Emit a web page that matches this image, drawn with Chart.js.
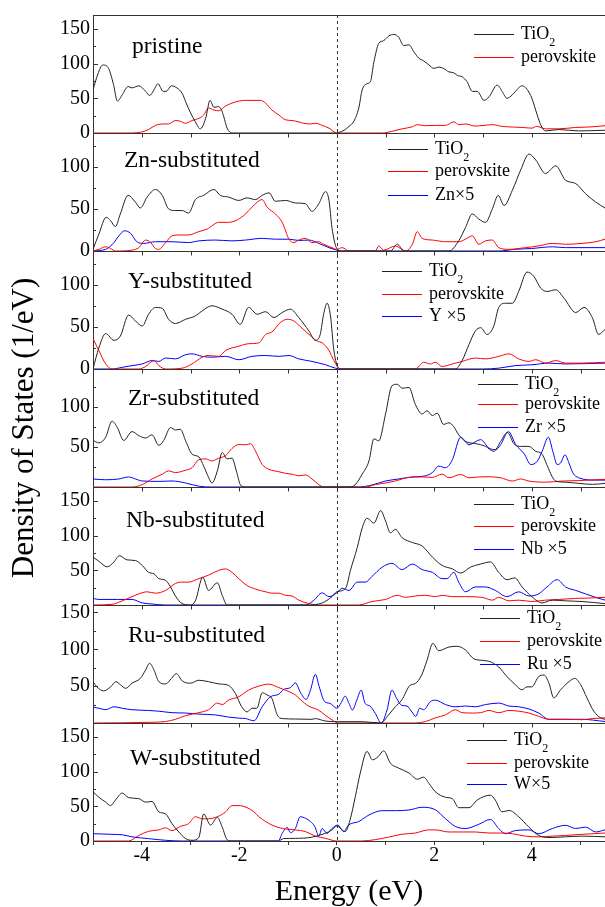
<!DOCTYPE html>
<html><head><meta charset="utf-8">
<script src="https://cdn.jsdelivr.net/npm/chart.js@4.4.1/dist/chart.umd.min.js"></script>
<style>html,body{margin:0;padding:0;background:#fff;}canvas{display:block;}</style>
</head><body>
<canvas id="c" width="605" height="907"></canvas>
<script>
// ---------------- DATA (energy in eV, DOS in 1/eV) ----------------
const energyMin = -5, energyMax = 5.5;
const panelNames = ['pristine','Zn-substituted','Y-substituted','Zr-substituted','Nb-substituted','Ru-substituted','W-substituted'];
const dopantLabels = [null,'Zn×5','Y ×5','Zr ×5','Nb ×5','Ru ×5','W×5'];
const yMax = [170,140,140,147,170,160,170];
const hideZeroLabel = [false,false,false,true,true,true,false];
const xTickLabels = [-4,-2,0,2,4];

const pristineTiO2 = [[-5,62],[-4.9,85],[-4.8,98],[-4.68,93],[-4.58,70],[-4.5,46],[-4.4,55],[-4.28,67],[-4.2,65],[-4.06,68],[-3.92,60],[-3.84,54],[-3.75,62],[-3.67,71],[-3.56,60],[-3.5,60],[-3.39,68],[-3.28,65],[-3.17,57],[-3.1,45],[-3.0,29],[-2.9,16],[-2.8,6],[-2.69,21],[-2.6,47],[-2.52,37],[-2.43,38],[-2.37,34],[-2.32,24],[-2.25,7],[-2.15,0],[0,0],[0.05,1],[0.15,4],[0.25,9.5],[0.35,17],[0.45,36],[0.52,62],[0.62,71],[0.69,74],[0.76,102],[0.86,129],[0.96,133],[1.07,140],[1.17,142],[1.27,138],[1.37,126],[1.48,127],[1.58,117],[1.68,108],[1.78,104],[1.89,98],[1.99,93],[2.09,95],[2.19,93],[2.3,88],[2.39,87],[2.47,83],[2.57,81],[2.67,74],[2.78,60],[2.88,60],[3.02,47],[3.12,52],[3.29,69],[3.39,60],[3.49,50],[3.6,55],[3.73,65],[3.8,68],[3.9,63],[4.0,50],[4.11,26],[4.18,12],[4.28,3],[4.55,5],[4.96,3],[5.5,4]];
const pristinePerov = [[-5,0],[-4.2,0],[-4.0,1.5],[-3.86,5],[-3.72,11],[-3.58,13],[-3.45,13],[-3.31,18],[-3.21,17],[-3.1,14],[-2.97,18],[-2.83,21],[-2.73,26],[-2.63,36],[-2.52,33],[-2.42,32],[-2.28,39],[-2.15,43],[-2.01,46],[-1.87,47],[-1.74,47],[-1.57,47],[-1.46,43],[-1.33,33],[-1.19,26],[-1.05,19],[-0.92,18],[-0.78,16],[-0.68,14],[-0.54,13],[-0.44,14],[-0.3,11],[-0.16,7],[0,0],[0.93,0],[1.13,2.4],[1.34,6],[1.55,9],[1.65,12],[1.82,10.5],[2.02,11],[2.23,11],[2.4,16],[2.5,12],[2.64,13],[2.84,10],[3.02,11],[3.19,12],[3.39,9.5],[3.6,8.6],[3.8,8],[4.0,7],[4.1,9.5],[4.28,6],[4.55,6],[4.9,8],[5.17,8.6],[5.5,10.5]];

const znTiO2 = [[-5,2],[-4.88,20],[-4.73,40],[-4.64,36],[-4.54,29],[-4.44,44],[-4.28,66],[-4.13,58],[-4.03,51],[-3.89,64],[-3.72,73],[-3.58,66],[-3.45,50],[-3.31,48],[-3.17,48],[-3.04,45],[-2.9,61],[-2.73,66],[-2.52,73],[-2.39,66],[-2.22,64],[-2.01,60],[-1.84,63],[-1.67,61],[-1.53,66],[-1.39,69],[-1.26,59],[-1.05,60],[-0.85,57],[-0.64,56],[-0.51,47],[-0.37,56],[-0.23,70.5],[-0.16,60],[-0.1,28],[0,3],[0.1,0],[1.1,0],[1.24,8],[1.38,0],[2.3,0],[2.5,12],[2.64,28],[2.78,44],[2.91,38],[3.05,34],[3.19,50],[3.31,66],[3.43,54],[3.6,72],[3.77,96],[3.94,115],[4.08,108],[4.28,92],[4.49,101],[4.69,84],[4.9,80],[5.1,68],[5.31,58],[5.5,51]];
const znPerov = [[-5,0],[-4.88,2],[-4.74,5],[-4.64,3],[-4.54,0],[-4.2,1],[-4.06,4],[-3.92,13],[-3.82,10],[-3.72,3],[-3.65,2],[-3.51,10],[-3.38,18],[-3.21,19],[-3.04,19],[-2.83,23],[-2.66,26],[-2.42,34],[-2.22,34],[-2.04,37],[-1.87,44],[-1.74,52],[-1.53,61],[-1.43,52],[-1.26,44],[-1.12,34],[-0.98,14],[-0.88,10],[-0.78,13],[-0.64,15],[-0.51,10],[-0.37,11],[-0.27,8],[-0.1,4],[0,2],[0.11,4],[0.25,0],[0.79,0],[0.86,6],[0.96,1],[1.2,6],[1.41,0],[1.55,8],[1.65,23],[1.75,15],[1.96,13],[2.23,11],[2.5,11],[2.64,14],[2.78,18],[2.91,8],[3.05,12],[3.19,13],[3.32,4],[3.53,2],[3.87,4],[4.14,6],[4.42,9],[4.69,8],[5.03,9],[5.31,11],[5.5,14]];
const znDopant = [[-5,0],[-4.74,2],[-4.57,10],[-4.47,18],[-4.35,24],[-4.23,21],[-4.1,11],[-3.96,9],[-3.72,11],[-3.38,11],[-3.04,10],[-2.83,12],[-2.49,13],[-2.15,12],[-1.87,13],[-1.53,15],[-1.26,14],[-0.98,14],[-0.78,12.5],[-0.57,13],[-0.37,9],[-0.16,4],[0,1],[0.1,0],[3.32,0],[3.66,2],[4.0,3],[4.42,5],[4.69,4],[5.5,4]];

const yTiO2 = [[-5,0],[-4.88,25],[-4.74,42],[-4.57,34],[-4.44,39],[-4.27,64],[-4.13,57],[-3.99,51],[-3.86,65],[-3.72,73],[-3.58,72],[-3.45,59],[-3.31,54],[-3.1,59],[-2.9,63],[-2.76,69],[-2.56,75],[-2.35,71],[-2.15,65],[-1.98,53],[-1.81,73],[-1.63,65],[-1.46,68],[-1.29,61],[-1.12,67],[-0.95,71],[-0.78,61],[-0.57,45],[-0.44,34],[-0.34,41],[-0.27,65],[-0.2,78],[-0.13,63],[-0.06,22],[0.04,1],[0.1,0],[2.43,0],[2.57,10],[2.71,29],[2.84,45],[2.95,49],[3.08,41],[3.22,51],[3.32,73],[3.46,78],[3.6,78],[3.73,92],[3.9,115],[4.04,110],[4.18,96],[4.31,92],[4.49,94],[4.66,84],[4.9,67],[5.07,73],[5.24,61],[5.37,41],[5.5,47]];
const yPerov = [[-5,36],[-4.88,22],[-4.74,6],[-4.61,0],[-4.06,0],[-3.92,3],[-3.75,10],[-3.65,4],[-3.51,0],[-3.17,1],[-2.97,6],[-2.76,14],[-2.63,16],[-2.42,15],[-2.28,22],[-2.01,27],[-1.81,30],[-1.6,31],[-1.46,41],[-1.33,44],[-1.16,55],[-1.02,59],[-0.88,57],[-0.78,52],[-0.57,41],[-0.4,33],[-0.3,31],[-0.16,22],[-0.06,10],[0.07,0],[1.61,0],[1.78,8],[1.92,6],[2.02,8],[2.16,3],[2.37,6],[2.57,9],[2.84,13],[3.05,12],[3.32,15],[3.53,18],[3.73,12],[3.94,9],[4.08,11],[4.28,7],[4.49,10],[4.69,7],[5.03,7],[5.5,8]];
const yDopant = [[-5,0],[-4.61,0],[-4.4,2],[-4.2,4],[-3.99,6],[-3.79,10],[-3.65,9],[-3.51,13],[-3.31,12],[-3.1,17],[-2.97,18],[-2.76,15],[-2.56,14],[-2.28,15],[-2.01,11],[-1.74,15],[-1.46,16],[-1.19,15],[-0.98,16],[-0.78,12],[-0.51,9],[-0.23,5],[-0.03,1],[0.1,0],[2.98,0],[3.32,1],[3.66,4],[4.0,5],[4.35,7],[4.69,6],[5.5,7]];

const zrTiO2 = [[-5,58],[-4.88,55],[-4.74,62],[-4.61,82],[-4.5,74],[-4.37,58],[-4.2,69],[-4.06,64],[-3.92,61],[-3.79,65],[-3.65,52],[-3.55,58],[-3.41,74],[-3.31,71],[-3.21,72],[-3.1,57.5],[-2.97,41],[-2.83,37.5],[-2.73,26],[-2.63,12],[-2.56,5],[-2.45,20],[-2.35,43],[-2.25,35],[-2.15,36],[-2.06,20],[-1.98,3],[-1.9,0],[0.25,0],[0.38,3],[0.52,16],[0.66,32.5],[0.76,60],[0.86,57.5],[1.0,91],[1.13,126],[1.24,128],[1.34,123],[1.48,124],[1.61,103],[1.75,91],[1.85,95],[1.96,89],[2.06,92],[2.19,78],[2.3,80],[2.4,75],[2.5,65],[2.64,56.8],[2.85,54],[3.05,50.6],[3.22,44.4],[3.36,56.8],[3.5,68],[3.63,54],[3.77,50.6],[3.94,50.6],[4.08,44.4],[4.2,41.6],[4.32,26],[4.41,13.6],[4.49,7.4],[4.69,6],[4.96,4.5],[5.24,3.3],[5.5,4.5]];
const zrPerov = [[-5,0],[-4.2,0],[-3.99,3],[-3.79,10],[-3.58,16],[-3.45,20],[-3.31,18],[-3.1,21],[-2.97,24],[-2.83,34],[-2.69,35],[-2.56,32.5],[-2.42,36],[-2.28,39],[-2.15,48],[-2.01,53],[-1.87,52.5],[-1.77,54],[-1.67,45],[-1.53,28],[-1.39,22],[-1.19,19],[-1.05,17],[-0.92,16],[-0.78,14],[-0.64,15],[-0.51,10],[-0.37,3],[-0.27,0],[0.59,0],[0.79,3],[1.0,5],[1.2,7.5],[1.48,12],[1.75,12.5],[1.96,12],[2.16,16],[2.3,11.5],[2.54,15.6],[2.71,11.5],[2.91,12.5],[3.12,12.8],[3.36,11.5],[3.6,7.4],[3.77,10],[3.94,7.4],[4.28,6],[4.62,7.4],[4.96,8],[5.5,9.5]];
const zrDopant = [[-5,10],[-4.74,9],[-4.47,10],[-4.27,12.5],[-4.13,10],[-3.99,7.5],[-3.65,7],[-3.38,7.5],[-3.1,5],[-2.83,1],[-2.56,0],[0.45,0],[0.72,2.5],[1.0,7.5],[1.27,10],[1.55,12.5],[1.82,14],[1.96,18],[2.09,26],[2.23,24],[2.37,34],[2.54,62],[2.71,52.7],[2.95,59],[3.12,48.5],[3.26,46.5],[3.36,52.7],[3.52,69],[3.67,52.7],[3.84,41.6],[3.98,28],[4.11,32],[4.21,44.4],[4.34,62],[4.43,44.4],[4.52,28],[4.59,30],[4.68,40],[4.76,30],[4.84,17.7],[4.96,11.5],[5.31,8.6],[5.5,8.6]];

const nbTiO2 = [[-5,69],[-4.88,63],[-4.71,55],[-4.57,62],[-4.46,71],[-4.3,65],[-4.13,64],[-3.99,57],[-3.86,47],[-3.75,45],[-3.65,38],[-3.51,35.5],[-3.41,26],[-3.31,13],[-3.17,2],[-3.0,0],[-2.9,6],[-2.75,40],[-2.63,21],[-2.45,32],[-2.35,14],[-2.25,0],[-0.57,0],[-0.3,3],[-0.1,12],[0,19],[0.18,24],[0.28,50],[0.42,83],[0.52,111],[0.62,125],[0.76,118],[0.9,136],[1.0,121],[1.1,104],[1.2,109],[1.34,97],[1.55,90],[1.75,85],[1.96,69],[2.16,57],[2.37,52],[2.54,46],[2.74,54.5],[2.95,59],[3.15,62],[3.32,47],[3.49,36.5],[3.65,39],[3.8,26],[4.0,12],[4.21,3],[4.42,7],[4.69,6],[5.03,5],[5.5,2]];
const nbPerov = [[-5,0],[-4.61,1],[-4.4,6],[-4.2,12],[-4.06,16],[-3.89,19],[-3.72,17],[-3.51,21],[-3.31,31],[-3.17,33],[-3.04,33],[-2.83,38],[-2.63,43],[-2.42,50],[-2.28,52],[-2.15,47],[-2.01,38],[-1.84,28],[-1.67,23],[-1.46,19],[-1.33,17],[-1.19,17],[-1.05,14],[-0.92,13],[-0.78,7],[-0.57,2],[-0.37,0],[0.45,0],[0.72,5],[1.0,8],[1.24,14],[1.41,11],[1.61,13],[1.82,14],[2.02,12],[2.16,14],[2.37,12],[2.64,12],[2.98,11],[3.19,7],[3.32,11],[3.53,6],[3.73,7],[4.0,5],[4.28,7],[4.55,8],[4.9,9.5],[5.17,10],[5.5,11]];
const nbDopant = [[-5,9.5],[-4.88,8],[-4.5,8],[-4.2,8],[-3.99,3],[-3.79,1.4],[-3.51,0],[-0.64,0],[-0.47,7],[-0.3,17.5],[-0.16,12],[0,17.5],[0.11,24],[0.25,21],[0.42,33],[0.59,33],[0.72,41],[0.93,54.5],[1.13,60],[1.34,51],[1.55,59],[1.75,51],[1.96,47],[2.16,38],[2.26,38],[2.4,47],[2.5,33],[2.64,19],[2.84,26],[3.05,26],[3.25,21],[3.49,12],[3.73,19],[3.94,13],[4.14,16],[4.31,26],[4.52,36.5],[4.69,26],[4.9,21],[5.1,16],[5.31,11],[5.5,7]];

const ruTiO2 = [[-5,56],[-4.92,49],[-4.78,43.5],[-4.64,49],[-4.53,56],[-4.44,52],[-4.33,47],[-4.2,54],[-4.03,60.5],[-3.92,72],[-3.84,81],[-3.75,72],[-3.65,56],[-3.51,53],[-3.39,60.5],[-3.29,67],[-3.17,57],[-3.0,54],[-2.83,58],[-2.63,56],[-2.42,53],[-2.22,51],[-2.08,40],[-1.95,22],[-1.84,15],[-1.74,20],[-1.64,20],[-1.53,41],[-1.43,38],[-1.33,33],[-1.22,10.8],[-1.12,6],[-0.85,5.4],[-0.51,5],[-0.44,6],[-0.24,2.7],[0,1.8],[0.51,1.8],[0.9,0],[1.06,10.8],[1.2,22],[1.33,31],[1.5,51],[1.61,53.6],[1.74,65],[1.85,85],[1.97,108],[2.09,98],[2.3,103],[2.47,104],[2.64,99],[2.81,87],[2.98,85],[3.15,83],[3.32,76],[3.49,63],[3.66,52],[3.8,45],[3.9,49],[4.0,49],[4.14,63],[4.25,65],[4.35,54],[4.45,34],[4.59,45],[4.76,56],[4.88,60.5],[5.0,52],[5.13,34],[5.27,16],[5.41,7],[5.5,5]];
const ruPerov = [[-5,0],[-3.79,1],[-3.51,2],[-3.31,5],[-3.1,10],[-2.83,14],[-2.63,18],[-2.45,27],[-2.35,25],[-2.22,31],[-2.01,35.6],[-1.81,44.6],[-1.6,50],[-1.4,52.7],[-1.19,48],[-1.02,43.6],[-0.85,38],[-0.75,32],[-0.58,23],[-0.38,17.6],[-0.24,10.8],[-0.07,3],[0.03,0],[1.61,0],[1.82,2],[2.02,7],[2.23,11],[2.43,18],[2.57,14],[2.78,13.5],[2.95,14],[3.12,17],[3.32,14],[3.53,17],[3.73,16],[3.94,13.5],[4.14,9],[4.35,5],[4.69,5],[5.03,4.5],[5.24,6],[5.5,7]];
const ruDopant = [[-5,21.5],[-4.88,20],[-4.74,18],[-4.57,22],[-4.4,20],[-4.2,18],[-3.86,17],[-3.65,16],[-3.38,14],[-3.1,13.5],[-2.83,12],[-2.49,11],[-2.22,8],[-2.0,6.5],[-1.87,6],[-1.7,3],[-1.53,22],[-1.36,35.6],[-1.19,39],[-1.09,45.5],[-0.95,48],[-0.85,54.5],[-0.75,42],[-0.63,32],[-0.54,44.6],[-0.44,66],[-0.36,49],[-0.25,29],[-0.14,26.6],[0,20],[0.09,27.5],[0.17,36.5],[0.25,26.6],[0.32,17.6],[0.41,31],[0.5,44.6],[0.58,26.6],[0.68,23],[0.79,13],[0.91,0],[1.03,17.6],[1.13,44.6],[1.23,33],[1.33,24],[1.44,23],[1.54,15],[1.62,9],[1.7,20],[1.78,18],[1.92,29],[2.02,31],[2.23,25],[2.43,22],[2.64,23],[2.84,22],[3.05,25],[3.32,27],[3.53,23],[3.73,22],[3.94,19],[4.14,13.5],[4.35,5],[4.69,5],[5.03,5],[5.5,2]];

const wTiO2 = [[-5,71],[-4.88,63],[-4.74,56],[-4.64,51],[-4.54,59],[-4.4,69],[-4.27,62.5],[-4.06,61],[-3.92,56],[-3.79,57],[-3.65,42],[-3.51,39],[-3.38,25],[-3.24,13],[-3.1,3.4],[-2.97,1],[-2.83,5],[-2.73,39],[-2.59,23],[-2.45,34],[-2.35,20],[-2.25,2],[-2.15,0],[-1.2,0],[-1.09,3.5],[-0.85,3.8],[-0.51,5.5],[-0.24,11],[-0.1,16],[0,21.6],[0.11,16],[0.17,13.5],[0.27,30],[0.38,64],[0.48,97.7],[0.62,129],[0.73,117],[0.85,121.6],[0.96,130],[1.1,112],[1.27,105],[1.48,98],[1.65,89],[1.78,92],[1.89,83],[2.02,71],[2.23,63],[2.37,61],[2.5,48],[2.71,48],[2.88,59],[3.15,66],[3.25,59],[3.39,42],[3.53,44],[3.73,35],[3.94,20],[4.14,8],[4.35,5],[4.69,6],[5.03,7],[5.5,6]];
const wPerov = [[-5,0],[-4.27,0],[-4.06,8],[-3.86,14],[-3.65,16],[-3.51,19],[-3.38,15],[-3.21,21],[-3.04,25],[-2.9,35],[-2.76,32],[-2.63,32],[-2.45,35],[-2.28,42],[-2.15,51],[-2.01,51],[-1.84,48],[-1.7,42],[-1.6,35],[-1.46,28],[-1.33,23],[-1.12,18],[-0.85,16],[-0.64,13.5],[-0.44,7],[-0.24,4],[0,0],[0.51,0],[0.79,2],[1.06,5.5],[1.33,9.7],[1.61,11.5],[1.88,16],[2.02,16],[2.3,13],[2.57,13],[2.84,13],[3.12,11.5],[3.39,11.5],[3.6,10.5],[3.87,7],[4.14,6],[4.42,7],[4.69,8],[5.03,9.6],[5.5,11.5]];
const wDopant = [[-5,10.5],[-4.61,9.6],[-4.4,9],[-4.2,6],[-3.86,3.4],[-3.51,1],[-3.17,0],[-1.2,0],[-1.12,11],[-1.02,19.7],[-0.95,12],[-0.85,18],[-0.75,35],[-0.64,32.7],[-0.54,28],[-0.45,20.7],[-0.37,7],[-0.3,18],[-0.2,11],[-0.1,18],[0.02,23],[0.14,13.5],[0.24,23],[0.45,28],[0.66,37.5],[0.93,43.7],[1.2,43.7],[1.48,44.7],[1.75,48.6],[2.02,45],[2.23,32],[2.43,21],[2.64,18],[2.91,24],[3.15,31],[3.32,18],[3.46,10.5],[3.66,15],[3.94,16],[4.14,10.5],[4.42,18],[4.69,22.6],[4.9,18],[5.1,20],[5.31,13],[5.5,16]];

const seriesByPanel = [
  [pristineTiO2, pristinePerov],
  [znTiO2, znPerov, znDopant],
  [yTiO2, yPerov, yDopant],
  [zrTiO2, zrPerov, zrDopant],
  [nbTiO2, nbPerov, nbDopant],
  [ruTiO2, ruPerov, ruDopant],
  [wTiO2, wPerov, wDopant]
];

// ---------------- STYLE ----------------
const FONT = "'Liberation Serif', 'Times New Roman', serif";
const seriesColors = ['#222222', '#ff0000', '#0000ff'];
const axisColor = '#333333';
const panelIds = ['p1','p2','p3','p4','p5','p6','p7'];
const labelPos = [[132,38],[124,34],[128,37],[128,36],[126,40],[128,37],[130,42]]; // x, baseline offset from panel top
const legendLineX = [474,388,382,478,474,480,467];
const legendRowY = [[19,42],[16,38,62],[20,43,65],[15,35,58],[17,39,62],[13,36,59],[17,40,61]];

Chart.defaults.font.family = FONT;
Chart.defaults.color = '#000';

const datasets = [];
seriesByPanel.forEach((series, i) => {
  series.forEach((arr, j) => {
    datasets.push({
      label: panelNames[i] + ' ' + j,
      data: arr.map(p => ({x: p[0], y: p[1]})),
      borderColor: seriesColors[j],
      borderWidth: 1,
      pointRadius: 0,
      fill: false,
      cubicInterpolationMode: 'monotone',
      xAxisID: 'x',
      yAxisID: panelIds[i]
    });
  });
});

const scales = {
  x: {
    type: 'linear', position: 'bottom', min: energyMin, max: energyMax, bounds: 'data',
    ticks: {
      stepSize: 1, autoSkip: false, maxRotation: 0, padding: 1, includeBounds: false,
      font: {size: 20, lineHeight: 1}, color: '#000',
      callback: v => xTickLabels.includes(v) ? String(v) : ''
    },
    grid: {
      display: true, drawOnChartArea: false, drawTicks: true, tickLength: 4,
      tickColor: c => (c.tick && Number.isInteger(c.tick.value)) ? axisColor : 'rgba(0,0,0,0)'
    },
    border: {display: true, color: axisColor, width: 1},
    title: {display: true, text: 'Energy (eV)', color: '#000', font: {size: 30, lineHeight: 1}, padding: {top: 0, bottom: 0}},
    afterFit: s => { s.height = 66; }
  }
};
panelIds.forEach((id, i) => {
  scales[id] = {
    type: 'linear', position: 'left', stack: 'panels', stackWeight: 1, weight: 7 - i,
    min: 0, max: yMax[i], bounds: 'data',
    ticks: {
      stepSize: 25, autoSkip: false, padding: 3, color: '#000', font: {size: 20}, includeBounds: false,
      callback: v => (v % 50 === 0 && !(v === 0 && hideZeroLabel[i])) ? String(v) : ''
    },
    grid: {display: false, drawTicks: false},
    border: {display: true, color: axisColor, width: 1},
    title: i === 3 ? {display: true, text: 'Density of States (1/eV)', color: '#000', font: {size: 31}, padding: {top: 6, bottom: 0}} : {display: false},
    afterFit: s => { s.width = 93; }
  };
});

const decor = {
  id: 'decor',
  afterDatasetsDraw(chart) {
    const ctx = chart.ctx, area = chart.chartArea, xs = chart.scales.x;
    ctx.save();
    ctx.strokeStyle = axisColor; ctx.lineWidth = 1;
    // dashed Fermi level
    const x0 = Math.round(xs.getPixelForValue(0)) + 0.5;
    ctx.setLineDash([3, 3]);
    ctx.beginPath(); ctx.moveTo(x0, area.top); ctx.lineTo(x0, area.bottom); ctx.stroke();
    ctx.setLineDash([]);
    panelIds.forEach((id, i) => {
      const s = chart.scales[id];
      const yb = Math.round(s.getPixelForValue(0)) + 0.5;
      ctx.beginPath(); ctx.moveTo(area.left, yb); ctx.lineTo(area.right, yb); ctx.stroke();
      if (i === 0) {
        const yt = Math.round(s.top) + 0.5;
        ctx.beginPath(); ctx.moveTo(area.left, yt); ctx.lineTo(area.right, yt); ctx.stroke();
      }
      // inward y ticks
      for (let v = 25; v < yMax[i]; v += 25) {
        const py = Math.round(s.getPixelForValue(v)) + 0.5;
        const len = v % 50 === 0 ? 5 : 3;
        ctx.beginPath(); ctx.moveTo(area.left, py); ctx.lineTo(area.left + len, py); ctx.stroke();
      }
      // downward x ticks on internal panel boundaries
      if (i < panelIds.length - 1) {
        for (let e = -4; e <= 5; e++) {
          const px = Math.round(xs.getPixelForValue(e)) + 0.5;
          ctx.beginPath(); ctx.moveTo(px, yb); ctx.lineTo(px, yb + 4); ctx.stroke();
        }
      }
    });
    ctx.restore();
  },
  afterDraw(chart) {
    const ctx = chart.ctx;
    ctx.save();
    panelIds.forEach((id, i) => {
      const s = chart.scales[id];
      const top = s.top;
      // panel label
      ctx.fillStyle = '#000';
      ctx.font = '23.5px ' + FONT;
      ctx.textAlign = 'left'; ctx.textBaseline = 'alphabetic';
      ctx.fillText(panelNames[i], labelPos[i][0], top + labelPos[i][1]);
      // legend
      const names = ['TiO', 'perovskite', dopantLabels[i]];
      seriesByPanel[i].forEach((arr, j) => {
        const y = Math.round(top + legendRowY[i][j]) + 0.5;
        const lx = legendLineX[i];
        ctx.strokeStyle = seriesColors[j]; ctx.lineWidth = 1;
        ctx.beginPath(); ctx.moveTo(lx, y); ctx.lineTo(lx + 40, y); ctx.stroke();
        ctx.font = '18px ' + FONT; ctx.textBaseline = 'middle'; ctx.fillStyle = '#000';
        const tx = lx + 47;
        ctx.fillText(names[j], tx, y);
        if (j === 0) {
          const w = ctx.measureText('TiO').width;
          ctx.font = '12px ' + FONT; ctx.textBaseline = 'alphabetic';
          ctx.fillText('2', tx + w, y + 11);
        }
      });
    });
    ctx.restore();
  }
};

new Chart(document.getElementById('c'), {
  type: 'line',
  data: {datasets},
  options: {
    responsive: false, animation: false,
    layout: {padding: {top: 13, right: 0, left: 0, bottom: 0}},
    plugins: {legend: {display: false}, tooltip: {enabled: false}},
    scales
  },
  plugins: [decor]
});
</script>
</body></html>
